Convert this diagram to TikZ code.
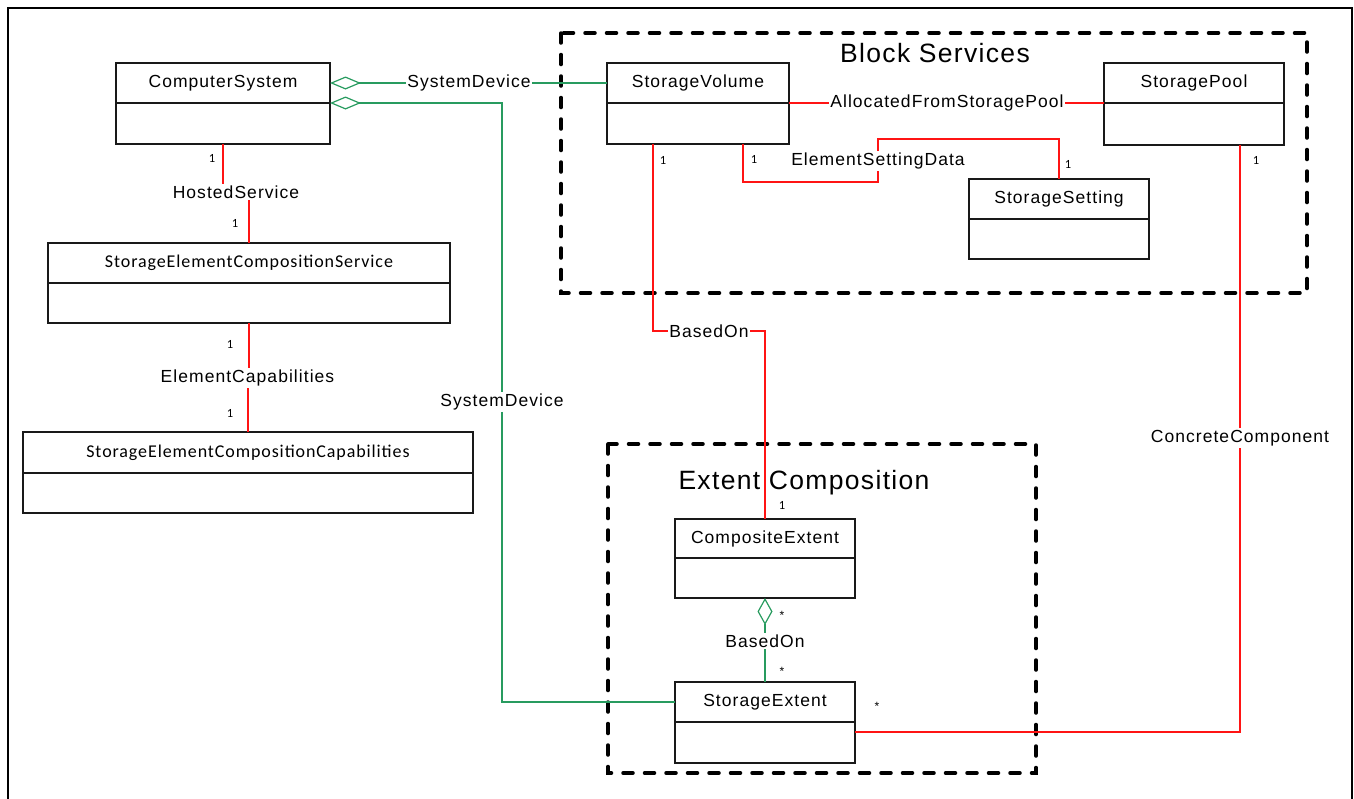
\documentclass[tikz,border=0pt]{standalone}
\usepackage{fontspec}
\setmainfont{Liberation Sans}
\newfontfamily\lblfont{Liberation Sans}[LetterSpace=6.0]
\newfontfamily\ttlfont{Liberation Sans}[LetterSpace=5.0]
\newfontfamily\calfont{Carlito}[LetterSpace=5.0]
\usetikzlibrary{arrows.meta,calc}
\definecolor{uGreen}{RGB}{40,155,95}
\definecolor{uRed}{RGB}{255,20,20}
\begin{document}
\begin{tikzpicture}[x=1pt,y=-1pt,
  clsbox/.style={draw=black!90,line width=1.1pt,inner sep=0pt,outer sep=0pt,minimum height=40pt,
    font={\lblfont\fontsize{17.5}{20}\selectfont}},
  calbox/.style={clsbox,font={\calfont\fontsize{18}{20}\selectfont}},
  lbl/.style={fill=white,inner sep=1.5pt,font={\lblfont\fontsize{17.5}{20}\selectfont}},
  mult/.style={inner sep=0pt,font={\calfont\fontsize{12.5}{14}\selectfont}},
  star/.style={inner sep=0pt,font={\fontsize{12}{14}\selectfont}},
  ttl/.style={inner sep=0pt,font={\ttlfont\fontsize{26.5}{30}\selectfont}},
  grp/.style={draw=black,line width=3.5pt,line cap=round,dash pattern=on 10pt off 11.5pt},
  rl/.style={draw=uRed,line width=1.2pt},
  gl/.style={draw=uGreen,line width=1.2pt},
  agg/.style={{Diamond[open,length=31pt,width=13pt]}-},
  aggv/.style={{Diamond[open,length=27pt,width=15pt]}-}
]
\useasboundingbox (0,0) rectangle (1354,798);
% outer frame (open at the bottom)
\draw[line width=2.5pt] (8,820) -- (8,8) -- (1352,8) -- (1352,820);

% groups
\draw[grp] (561,33) rectangle (1307,293);
\node[ttl] (bst) at (935,53) {Block Services};
\draw[grp] (608,444) rectangle (1036,773);
\node[ttl] (ect) at (804,483) {Extent Composition};

% classes
\node[clsbox,minimum width=214pt] (cs) at (223,83) {ComputerSystem};
\node[clsbox,minimum width=214pt,minimum height=41pt,anchor=north] (cs-b) at (cs.south) {};

\node[calbox,minimum width=402pt] (secs) at (249,263) {StorageElementCompositionService};
\node[calbox,minimum width=402pt,anchor=north] (secs-b) at (secs.south) {};

\node[calbox,minimum width=450pt,minimum height=41pt] (secc) at (248,452.5) {StorageElementCompositionCapabilities};
\node[calbox,minimum width=450pt,anchor=north] (secc-b) at (secc.south) {};

\node[clsbox,minimum width=182pt] (sv) at (698,83) {StorageVolume};
\node[clsbox,minimum width=182pt,minimum height=41pt,anchor=north] (sv-b) at (sv.south) {};

\node[clsbox,minimum width=180pt] (sp) at (1194,83) {StoragePool};
\node[clsbox,minimum width=180pt,minimum height=42pt,anchor=north] (sp-b) at (sp.south) {};

\node[clsbox,minimum width=180pt] (ss) at (1059,199) {StorageSetting};
\node[clsbox,minimum width=180pt,anchor=north] (ss-b) at (ss.south) {};

\node[clsbox,minimum width=180pt,minimum height=39pt] (ce) at (765,538.5) {CompositeExtent};
\node[clsbox,minimum width=180pt,anchor=north] (ce-b) at (ce.south) {};

\node[clsbox,minimum width=180pt] (se) at (765,702) {StorageExtent};
\node[clsbox,minimum width=180pt,minimum height=41pt,anchor=north] (se-b) at (se.south) {};

% association labels
\node[lbl] (sd1) at (469,83) {SystemDevice};
\node[lbl] (sd2) at (502,402) {SystemDevice};
\node[lbl] (hs) at (236,192) {HostedService};
\node[lbl] (ec) at (247.5,378) {ElementCapabilities};
\node[lbl] (afsp) at (947,103) {AllocatedFromStoragePool};
\node[lbl] (esd) at (878,161) {ElementSettingData};
\node[lbl] (bo1) at (709,331) {BasedOn};
\node[lbl] (bo2) at (765,641) {BasedOn};
\node[lbl] (cc) at (1240,438) {ConcreteComponent};

\coordinate (esdA) at (878,182);
\coordinate (esdB) at (878,139);

% connectors
\draw[gl,agg] (cs.east) -- (sd1.west);
\draw[gl] (sd1.east) -- (sv.west);
\draw[gl,agg] (cs-b.north east) -| (sd2.north);
\draw[gl] (sd2.south) |- (se.west);

\draw[rl] (cs-b.south) -- (cs-b.south |- hs.north);
\draw[rl] (secs.north) -- (secs.north |- hs.south);
\draw[rl] (secs-b.south) -- (secs-b.south |- ec.north);
\draw[rl] (secc.north) -- (secc.north |- ec.south);

\draw[rl] (sv-b.north east) -- (afsp.west);
\draw[rl] (afsp.east) -- (sp-b.north west);

\draw[rl] ([xshift=136pt]sv-b.south west) |- (esdA) -- (esd.south);
\draw[rl] (esd.north) -- (esdB) -| (ss.north);

\draw[rl] ([xshift=46pt]sv-b.south west) |- (bo1.west);
\draw[rl] (bo1.east) -| (ce.north);

\draw[gl,aggv] (ce-b.south) -- (bo2.north);
\draw[gl] (bo2.south) -- (se.north);

\draw[rl] ([yshift=-10pt]se-b.north east) -| (cc.south);
\draw[rl] (cc.north) -- (cc.north |- sp-b.south);

% multiplicities
\node[mult] (m1) at (212,158) {1};
\node[mult] (m2) at (235,223) {1};
\node[mult] (m3) at (230,344) {1};
\node[mult] (m4) at (230,413) {1};
\node[mult] (m5) at (663,160) {1};
\node[mult] (m6) at (754,159) {1};
\node[mult] (m7) at (1068,164) {1};
\node[mult] (m8) at (1256,160) {1};
\node[mult] (m9) at (782,505) {1};
\node[star] (s1) at (782,615) {*};
\node[star] (s2) at (782,671) {*};
\node[star] (s3) at (877,706) {*};
\end{tikzpicture}
\end{document}
